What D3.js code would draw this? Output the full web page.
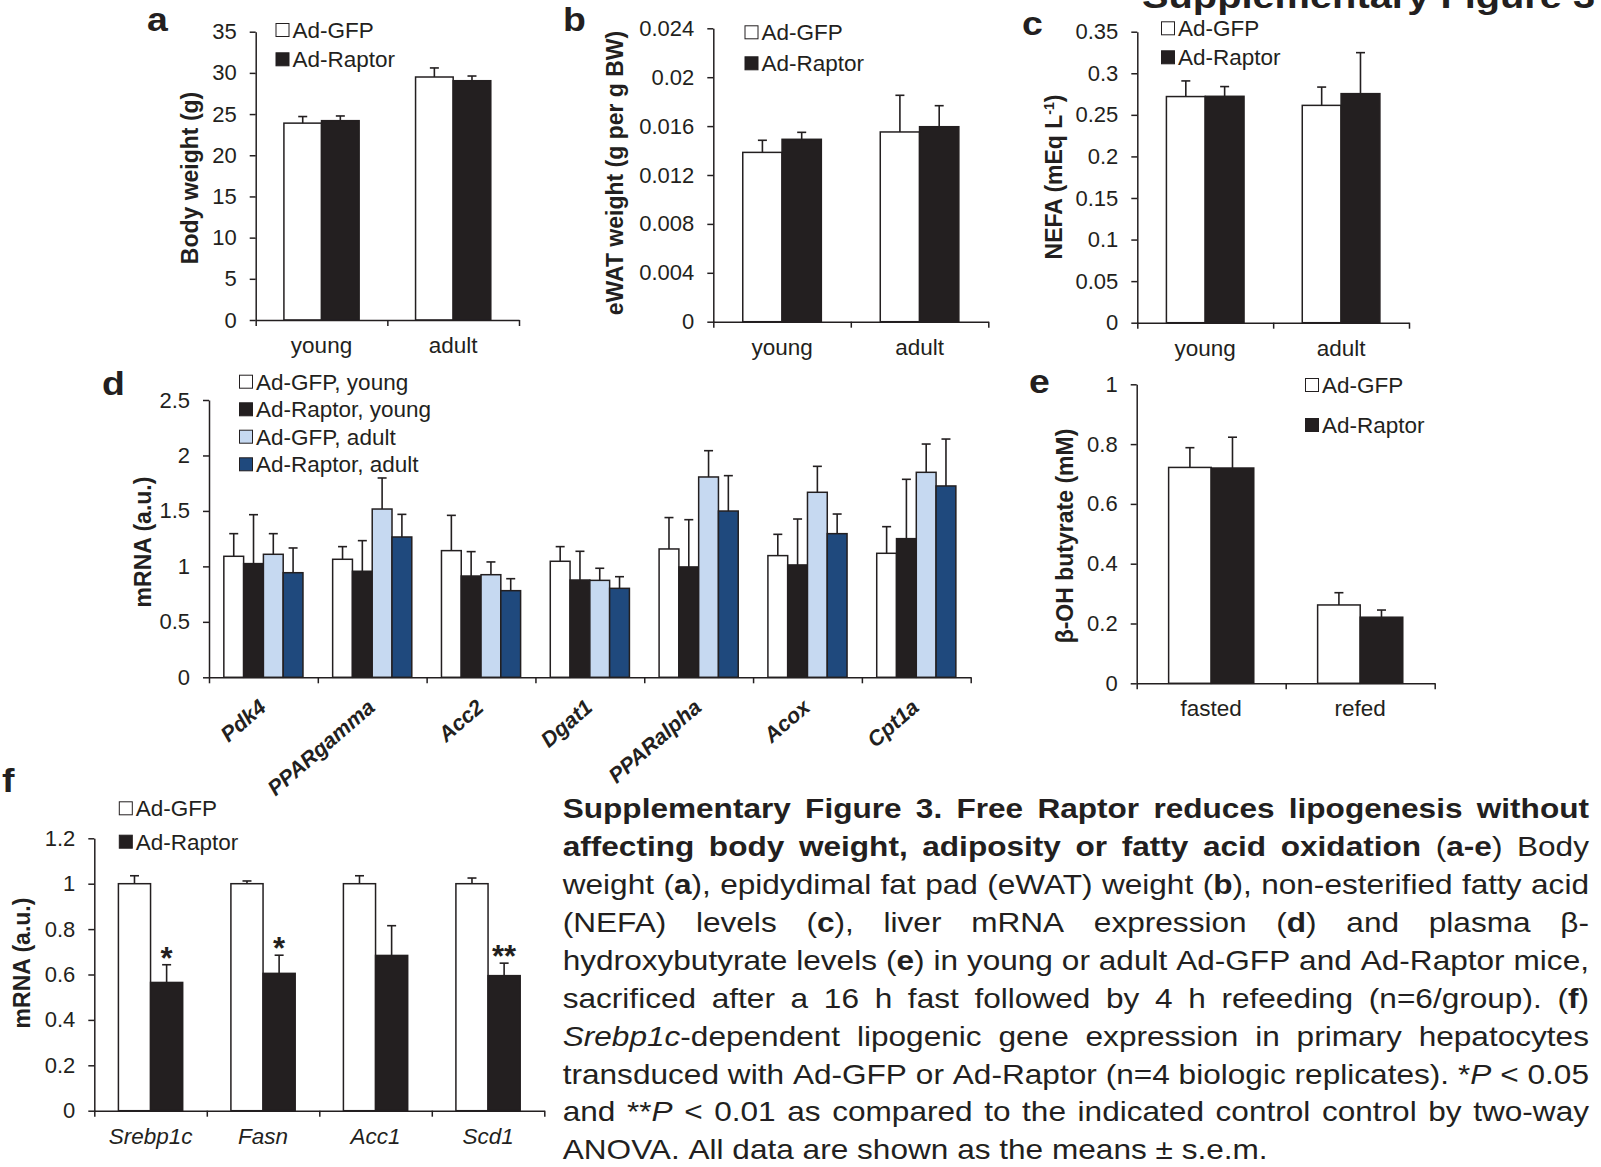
<!DOCTYPE html>
<html><head><meta charset="utf-8">
<script src="https://cdn.jsdelivr.net/npm/d3@7/dist/d3.min.js"></script>
<style>
body{margin:0;background:#fff}
svg{display:block}
text{font-family:"Liberation Sans",Arial,Helvetica,sans-serif;fill:#231f20}
</style></head><body>
<svg id="fig" width="1601" height="1167"></svg>
<script>
// ---------------- DATA ----------------
const ageCategories = ["young", "adult"];
const seriesNames2 = ["Ad-GFP", "Ad-Raptor"];

// (a) body weight (g)
const bodyWeightGFP = [23.9, 29.5];
const bodyWeightGFPErr = [0.8, 1.1];
const bodyWeightRaptor = [24.2, 29.05];
const bodyWeightRaptorErr = [0.57, 0.57];
const bodyWeightTicks = [0, 5, 10, 15, 20, 25, 30, 35];
const bodyWeightTickLabels = ["0", "5", "10", "15", "20", "25", "30", "35"];

// (b) eWAT weight (g per g BW)
const ewatGFP = [0.01385, 0.01552];
const ewatGFPErr = [0.00099, 0.0030];
const ewatRaptor = [0.01492, 0.01595];
const ewatRaptorErr = [0.00057, 0.00172];
const ewatTicks = [0, 0.004, 0.008, 0.012, 0.016, 0.02, 0.024];
const ewatTickLabels = ["0", "0.004", "0.008", "0.012", "0.016", "0.02", "0.024"];

// (c) NEFA (mEq/L)
const nefaGFP = [0.272, 0.2614];
const nefaGFPErr = [0.0188, 0.022];
const nefaRaptor = [0.2723, 0.2755];
const nefaRaptorErr = [0.0117, 0.0493];
const nefaTicks = [0, 0.05, 0.1, 0.15, 0.2, 0.25, 0.3, 0.35];
const nefaTickLabels = ["0", "0.05", "0.1", "0.15", "0.2", "0.25", "0.3", "0.35"];

// (d) liver mRNA
const liverGenes = ["Pdk4", "PPARgamma", "Acc2", "Dgat1", "PPARalpha", "Acox", "Cpt1a"];
const liverSeriesNames = ["Ad-GFP, young", "Ad-Raptor, young", "Ad-GFP, adult", "Ad-Raptor, adult"];
const liverGFPYoung = [1.091, 1.064, 1.142, 1.046, 1.157, 1.097, 1.118];
const liverGFPYoungErr = [0.204, 0.114, 0.318, 0.132, 0.283, 0.192, 0.240];
const liverRaptorYoung = [1.025, 0.956, 0.913, 0.877, 0.995, 1.013, 1.250];
const liverRaptorYoungErr = [0.441, 0.276, 0.220, 0.259, 0.426, 0.414, 0.535];
const liverGFPAdult = [1.109, 1.517, 0.925, 0.874, 1.806, 1.668, 1.848];
const liverGFPAdultErr = [0.186, 0.280, 0.115, 0.109, 0.237, 0.234, 0.255];
const liverRaptorAdult = [0.943, 1.265, 0.781, 0.802, 1.499, 1.295, 1.725];
const liverRaptorAdultErr = [0.223, 0.204, 0.108, 0.105, 0.319, 0.177, 0.423];
const liverTicks = [0, 0.5, 1, 1.5, 2, 2.5];
const liverTickLabels = ["0", "0.5", "1", "1.5", "2", "2.5"];

// (e) beta-OH butyrate (mM)
const feedingCategories = ["fasted", "refed"];
const bohbGFP = [0.722, 0.262];
const bohbGFPErr = [0.066, 0.041];
const bohbRaptor = [0.720, 0.221];
const bohbRaptorErr = [0.103, 0.024];
const bohbTicks = [0, 0.2, 0.4, 0.6, 0.8, 1];
const bohbTickLabels = ["0", "0.2", "0.4", "0.6", "0.8", "1"];

// (f) hepatocyte lipogenic genes
const lipoGenes = ["Srebp1c", "Fasn", "Acc1", "Scd1"];
const lipoGFP = [1.0, 1.0, 1.0, 1.0];
const lipoGFPErr = [0.035, 0.012, 0.035, 0.025];
const lipoRaptor = [0.565, 0.605, 0.684, 0.595];
const lipoRaptorErr = [0.078, 0.080, 0.131, 0.055];
const lipoStars = ["*", "*", "", "**"];
const lipoTicks = [0, 0.2, 0.4, 0.6, 0.8, 1, 1.2];
const lipoTickLabels = ["0", "0.2", "0.4", "0.6", "0.8", "1", "1.2"];

// caption (** = bold toggle, _ = italic toggle, \ escapes)
const captionLines = [
  "**Supplementary Figure 3. Free Raptor reduces lipogenesis without**",
  "**affecting body weight, adiposity or fatty acid oxidation** (**a-e**) Body",
  "weight (**a**), epidydimal fat pad (eWAT) weight (**b**), non-esterified fatty acid",
  "(NEFA) levels (**c**), liver mRNA expression (**d**) and plasma β-",
  "hydroxybutyrate levels (**e**) in young or adult Ad-GFP and Ad-Raptor mice,",
  "sacrificed after a 16 h fast followed by 4 h refeeding (n=6/group). (**f**)",
  "_Srebp1c_-dependent lipogenic gene expression in primary hepatocytes",
  "transduced with Ad-GFP or Ad-Raptor (n=4 biologic replicates). \\*_P_ < 0.05",
  "and \\*\\*_P_ < 0.01 as compared to the indicated control control by two-way",
  "ANOVA. All data are shown as the means ± s.e.m."
];
const figureTitle = "Supplementary Figure 3";

// ---------------- DRAWING ----------------
const INK = "#231f20";
const WHITE = "#ffffff";
const LIGHTBLUE = "#c6d9f1";
const DARKBLUE = "#1f497d";
const FS = 22.5;      // chart text size
const TICKFS = 22;    // tick label size
const svg = d3.select("#fig");

function barPanel(cfg) {
  const g = svg.append("g");
  const x = d3.scaleBand().domain(cfg.categories).range([cfg.x0, cfg.x1]).padding(0);
  const y = d3.scaleLinear().domain([0, cfg.max]).range([cfg.y0, cfg.y1]);
  const n = cfg.series.length;
  const bw = x.bandwidth() / (n + 1.5);
  const inner = d3.scaleBand().domain(d3.range(n)).range([0, bw * n]).padding(0);
  const off = (x.bandwidth() - bw * n) / 2;

  cfg.series.forEach((s, si) => {
    g.append("g").selectAll("rect").data(cfg.categories).join("rect")
      .attr("x", c => x(c) + off + inner(si))
      .attr("y", (c, i) => y(s.values[i]))
      .attr("width", bw)
      .attr("height", (c, i) => y(0) - y(s.values[i]))
      .attr("fill", s.fill)
      .attr("stroke", INK).attr("stroke-width", 1.5);
  });
  // error bars (upper only)
  cfg.series.forEach((s, si) => {
    const eg = g.append("g").attr("stroke", INK).attr("stroke-width", 1.6).attr("fill", "none");
    cfg.categories.forEach((c, i) => {
      const cx = x(c) + off + inner(si) + bw / 2;
      const top = y(s.values[i] + s.errors[i]);
      eg.append("line").attr("x1", cx).attr("x2", cx).attr("y1", y(s.values[i])).attr("y2", top);
      eg.append("line").attr("x1", cx - 4.5).attr("x2", cx + 4.5).attr("y1", top).attr("y2", top);
    });
  });
  // significance stars
  if (cfg.stars) {
    const si = cfg.series.length - 1, s = cfg.series[si];
    cfg.categories.forEach((c, i) => {
      if (!cfg.stars[i]) return;
      g.append("text").attr("x", x(c) + off + inner(si) + bw / 2)
        .attr("y", y(s.values[i] + s.errors[i]) + 4)
        .attr("text-anchor", "middle").attr("font-size", 31).attr("font-weight", "bold")
        .text(cfg.stars[i]);
    });
  }
  // y axis
  const ya = g.append("g").attr("transform", `translate(${cfg.x0},0)`)
    .call(d3.axisLeft(y).tickValues(cfg.ticks).tickFormat((d, i) => cfg.tickLabels[i])
      .tickSize(6).tickSizeOuter(0).tickPadding(13));
  ya.select(".domain").attr("stroke", INK).attr("stroke-width", 1.5);
  ya.selectAll(".tick line").attr("stroke", INK).attr("stroke-width", 1.5);
  ya.selectAll(".tick text").attr("font-size", TICKFS).attr("font-family", null).attr("fill", INK);
  // x axis with ticks at category boundaries
  const xb = d3.scaleLinear().domain([0, cfg.categories.length]).range([cfg.x0, cfg.x1]);
  const xa = g.append("g").attr("transform", `translate(0,${cfg.y0})`)
    .call(d3.axisBottom(xb).tickValues(d3.range(cfg.categories.length + 1)).tickFormat("")
      .tickSize(6).tickSizeOuter(0));
  xa.select(".domain").attr("stroke", INK).attr("stroke-width", 1.5);
  xa.selectAll(".tick line").attr("stroke", INK).attr("stroke-width", 1.5);
  // category labels
  if (cfg.rotateLabels) {
    g.selectAll("text.cat").data(cfg.categories).join("text").attr("class", "cat")
      .attr("transform", c => `translate(${x(c) + x.bandwidth() / 2 + 4},${cfg.y0 + 32}) rotate(-41)`)
      .attr("text-anchor", "end").attr("font-size", 21.5).attr("font-weight", "bold")
      .attr("font-style", "italic").text(c => c);
  } else {
    g.selectAll("text.cat").data(cfg.categories).join("text").attr("class", "cat")
      .attr("x", c => x(c) + x.bandwidth() / 2).attr("y", cfg.y0 + 33)
      .attr("text-anchor", "middle").attr("font-size", FS)
      .attr("font-style", cfg.italicLabels ? "italic" : null).text(c => c);
  }
  // y label
  const yl = g.append("text")
    .attr("transform", `translate(${cfg.ylx},${cfg.yly}) rotate(-90)`)
    .attr("text-anchor", "middle").attr("dy", "0.35em")
    .attr("font-size", 23).attr("font-weight", "bold");
  if (cfg.yLabelParts) {
    cfg.yLabelParts.forEach(p => {
      const t = yl.append("tspan").text(p.t);
      if (p.sup) t.attr("font-size", 14).attr("dy", -8);
      if (p.down) t.attr("dy", 8);
    });
  } else yl.text(cfg.yLabel);
  // panel letter
  g.append("text").attr("transform", `translate(${cfg.letterX},${cfg.letterY}) scale(1.1,1)`)
    .attr("font-size", 34).attr("font-weight", "bold").text(cfg.letter);
  // legend
  const lg = g.append("g");
  cfg.series.forEach((s, si) => {
    const cy = cfg.legend.rows[si];
    lg.append("rect").attr("x", cfg.legend.x).attr("y", cy - 6.5)
      .attr("width", 13).attr("height", 13).attr("fill", s.fill)
      .attr("stroke", INK).attr("stroke-width", 1);
    lg.append("text").attr("x", cfg.legend.x + 16.5).attr("y", cy).attr("dy", "0.36em")
      .attr("font-size", FS).text(s.name);
  });
}

barPanel({
  letter: "a", letterX: 147, letterY: 31,
  categories: ageCategories, x0: 255.7, x1: 519, y0: 320, y1: 31.7, max: 35,
  ticks: bodyWeightTicks, tickLabels: bodyWeightTickLabels,
  series: [
    { name: seriesNames2[0], values: bodyWeightGFP, errors: bodyWeightGFPErr, fill: WHITE },
    { name: seriesNames2[1], values: bodyWeightRaptor, errors: bodyWeightRaptorErr, fill: INK }],
  yLabel: "Body weight (g)", ylx: 190, yly: 178,
  legend: { x: 276, rows: [30, 59.3] }
});
barPanel({
  letter: "b", letterX: 563, letterY: 31,
  categories: ageCategories, x0: 713.3, x1: 988.3, y0: 321.7, y1: 28.3, max: 0.024,
  ticks: ewatTicks, tickLabels: ewatTickLabels,
  series: [
    { name: seriesNames2[0], values: ewatGFP, errors: ewatGFPErr, fill: WHITE },
    { name: seriesNames2[1], values: ewatRaptor, errors: ewatRaptorErr, fill: INK }],
  yLabel: "eWAT weight (g per g BW)", ylx: 615, yly: 173,
  legend: { x: 745, rows: [32.3, 63.3] }
});
barPanel({
  letter: "c", letterX: 1022, letterY: 35,
  categories: ageCategories, x0: 1137.3, x1: 1409, y0: 322.7, y1: 31.7, max: 0.35,
  ticks: nefaTicks, tickLabels: nefaTickLabels,
  series: [
    { name: seriesNames2[0], values: nefaGFP, errors: nefaGFPErr, fill: WHITE },
    { name: seriesNames2[1], values: nefaRaptor, errors: nefaRaptorErr, fill: INK }],
  yLabelParts: [{ t: "NEFA (mEq L" }, { t: "-1", sup: true }, { t: ")", down: true }],
  ylx: 1054, yly: 177,
  legend: { x: 1161.5, rows: [28.3, 57.3] }
});
barPanel({
  letter: "d", letterX: 102, letterY: 395,
  categories: liverGenes, x0: 209, x1: 970.7, y0: 677.3, y1: 400, max: 2.5,
  ticks: liverTicks, tickLabels: liverTickLabels, rotateLabels: true,
  series: [
    { name: liverSeriesNames[0], values: liverGFPYoung, errors: liverGFPYoungErr, fill: WHITE },
    { name: liverSeriesNames[1], values: liverRaptorYoung, errors: liverRaptorYoungErr, fill: INK },
    { name: liverSeriesNames[2], values: liverGFPAdult, errors: liverGFPAdultErr, fill: LIGHTBLUE },
    { name: liverSeriesNames[3], values: liverRaptorAdult, errors: liverRaptorAdultErr, fill: DARKBLUE }],
  yLabel: "mRNA (a.u.)", ylx: 143, yly: 542,
  legend: { x: 239.5, rows: [381.7, 409.3, 436.7, 464.3] }
});
barPanel({
  letter: "e", letterX: 1029, letterY: 393,
  categories: feedingCategories, x0: 1136.7, x1: 1434.7, y0: 683.3, y1: 384.3, max: 1,
  ticks: bohbTicks, tickLabels: bohbTickLabels,
  series: [
    { name: seriesNames2[0], values: bohbGFP, errors: bohbGFPErr, fill: WHITE },
    { name: seriesNames2[1], values: bohbRaptor, errors: bohbRaptorErr, fill: INK }],
  yLabel: "β-OH butyrate (mM)", ylx: 1065, yly: 536,
  legend: { x: 1305.5, rows: [385, 425] }
});
barPanel({
  letter: "f", letterX: 2, letterY: 792,
  categories: lipoGenes, x0: 94.3, x1: 544.3, y0: 1110.7, y1: 838.3, max: 1.2,
  ticks: lipoTicks, tickLabels: lipoTickLabels, italicLabels: true, stars: lipoStars,
  series: [
    { name: seriesNames2[0], values: lipoGFP, errors: lipoGFPErr, fill: WHITE },
    { name: seriesNames2[1], values: lipoRaptor, errors: lipoRaptorErr, fill: INK }],
  yLabel: "mRNA (a.u.)", ylx: 22, yly: 963,
  legend: { x: 119.3, rows: [808.3, 841.7] }
});

// figure title (cut at the top edge, as in the reference)
svg.append("text").attr("transform", "translate(1142,8) scale(1.17,1)")
  .attr("font-size", 34).attr("font-weight", "bold").text(figureTitle);

// caption with full justification
function parseLine(str) {
  const words = []; let cur = []; let seg = ""; let bold = false, ital = false;
  const pushSeg = () => { if (seg) { cur.push({ t: seg, b: bold, i: ital }); seg = ""; } };
  const pushWord = () => { pushSeg(); if (cur.length) words.push(cur); cur = []; };
  for (let k = 0; k < str.length; k++) {
    const ch = str[k];
    if (ch === "\\") { seg += str[k + 1]; k++; continue; }
    if (ch === "*" && str[k + 1] === "*") { pushSeg(); bold = !bold; k++; continue; }
    if (ch === "_") { pushSeg(); ital = !ital; continue; }
    if (ch === " ") { pushWord(); continue; }
    seg += ch;
  }
  pushWord();
  return words;
}
const capX0 = 562.7, capX1 = 1589, capY0 = 818.3, capLH = 37.9, capFS = 27, capSX = 1.17;
const capG = svg.append("g").attr("transform", `translate(${capX0},0) scale(${capSX},1)`);
const capW = (capX1 - capX0) / capSX;
captionLines.forEach((line, li) => {
  const words = parseLine(line);
  const els = words.map(w => {
    const t = capG.append("text").attr("y", capY0 + li * capLH).attr("font-size", capFS);
    w.forEach(s => {
      t.append("tspan").attr("font-weight", s.b ? "bold" : null)
        .attr("font-style", s.i ? "italic" : null).text(s.t);
    });
    return t;
  });
  const widths = els.map(e => e.node().getComputedTextLength());
  const total = d3.sum(widths);
  const last = li === captionLines.length - 1;
  const gap = last ? capFS * 0.278 : (capW - total) / (els.length - 1);
  let xx = 0;
  els.forEach((e, k) => { e.attr("x", xx); xx += widths[k] + gap; });
});
</script>
</body></html>
